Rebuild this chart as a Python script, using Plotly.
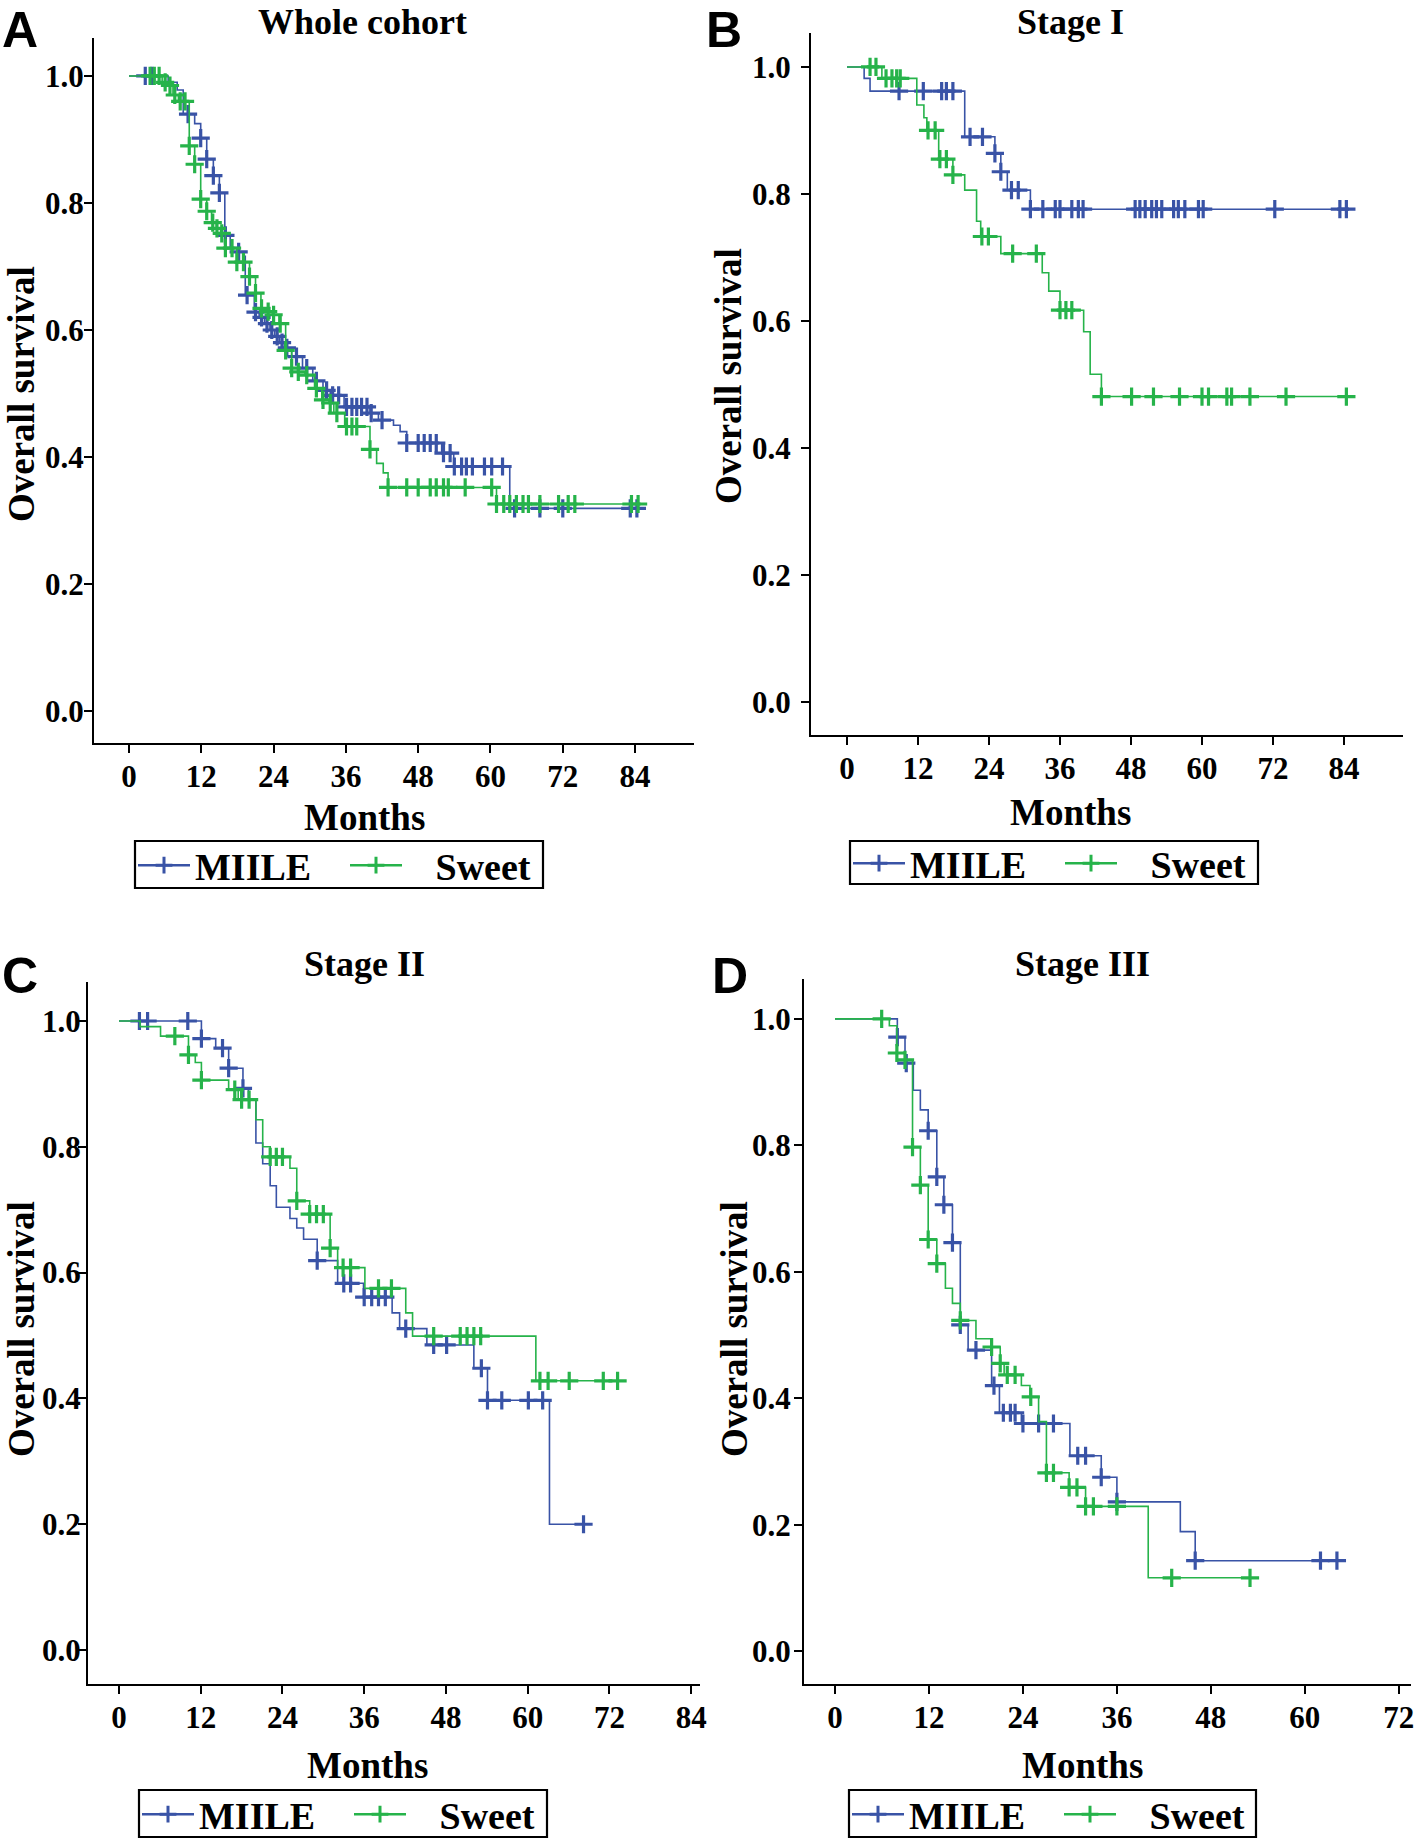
import numpy as np
import plotly.graph_objects as go

# ---------------- DATA (months, survival) ----------------
# Panel A: Whole cohort
A_miile_t = [6.5, 8.0, 9.0, 10.9, 11.9, 12.9, 14.0, 15.0, 15.9, 16.8, 17.9, 19.0, 19.3, 20.8, 21.6, 22.5,
             23.4, 24.2, 25.0, 25.8, 27.0, 28.8, 30.5, 32.2, 33.4, 35.7, 40.0, 41.4, 43.9, 45.0, 46.1, 51.9,
             53.9, 63.2]
A_miile_s = [0.99, 0.978, 0.94, 0.925, 0.902, 0.869, 0.843, 0.816, 0.749, 0.73, 0.723, 0.716, 0.655, 0.628,
             0.62, 0.61, 0.60, 0.59, 0.58, 0.572, 0.558, 0.54, 0.52, 0.505, 0.497, 0.479, 0.469, 0.458, 0.45,
             0.44, 0.422, 0.406, 0.385, 0.319]
A_miile_c = [2.7, 3.8, 9.8, 11.9, 12.9, 14.0, 15.0, 16.0, 18.2, 19.6, 21.0, 22.0, 22.9, 23.7, 24.6, 25.4,
             26.2, 27.8, 29.5, 31.1, 32.8, 33.8, 34.8, 36.1, 37.0, 37.8, 38.6, 39.5, 40.2, 42.0, 46.1, 48.0,
             49.0, 50.0, 51.0, 52.2, 53.3, 54.0, 55.2, 56.0, 57.0, 59.0, 60.2, 62.0, 64.0, 68.2, 72.0, 83.2, 84.3]
A_sweet_t = [5.5, 6.5, 7.3, 8.2, 10.0, 10.9, 11.9, 12.9, 13.7, 14.5, 15.2, 16.0, 17.9, 20.0, 21.0, 21.9,
             22.9, 23.8, 24.9, 26.0, 27.0, 28.0, 29.2, 30.8, 32.0, 33.2, 34.0, 35.8, 40.0, 41.1, 42.2, 43.0, 61.0]
A_sweet_s = [0.99, 0.985, 0.97, 0.96, 0.89, 0.861, 0.806, 0.787, 0.769, 0.76, 0.752, 0.729, 0.707, 0.684,
             0.658, 0.634, 0.629, 0.624, 0.61, 0.568, 0.54, 0.534, 0.529, 0.508, 0.49, 0.485, 0.469, 0.448,
             0.412, 0.39, 0.375, 0.352, 0.326]
A_sweet_c = [3.5, 4.2, 5.0, 6.0, 6.8, 7.6, 8.5, 9.3, 10.0, 10.9, 11.9, 12.9, 13.9, 14.6, 15.4, 16.0, 17.1,
             17.9, 19.0, 20.0, 21.0, 22.0, 23.1, 24.0, 25.1, 26.0, 27.0, 28.1, 29.5, 31.1, 32.2, 33.4, 34.5,
             36.1, 37.0, 37.8, 40.0, 43.0, 46.1, 48.0, 50.0, 51.0, 52.2, 53.0, 55.8, 60.2, 61.0, 62.2, 63.2,
             64.3, 65.4, 66.3, 68.2, 71.3, 72.9, 74.0, 83.4, 84.5]

# Panel B: Stage I
B_miile_t = [2.9, 3.9, 19.9, 25.0, 26.0, 27.1, 31.0]
B_miile_s = [0.982, 0.962, 0.89, 0.864, 0.835, 0.806, 0.776]
B_miile_c = [8.8, 12.9, 16.0, 16.8, 17.9, 20.8, 22.9, 25.0, 26.0, 27.8, 28.95, 31.0, 33.1, 35.2, 36.0, 38.0,
             39.1, 39.9, 48.7, 49.5, 50.4, 51.5, 52.3, 53.2, 55.2, 56.0, 57.1, 59.4, 60.2, 72.3, 83.3, 84.4]
B_sweet_t = [5.9, 11.8, 13.0, 13.5, 15.5, 17.9, 19.9, 21.9, 22.6, 26.0, 33.0, 34.1, 36.0, 40.0, 41.1, 43.0]
B_sweet_s = [0.982, 0.94, 0.92, 0.9, 0.855, 0.83, 0.806, 0.757, 0.733, 0.706, 0.676, 0.647, 0.617, 0.583,
             0.516, 0.481]
B_sweet_c = [3.9, 4.9, 6.6, 7.6, 8.4, 9.0, 13.7, 14.9, 15.7, 16.8, 17.9, 22.8, 23.9, 28.0, 32.0, 36.0, 37.0,
             38.0, 43.0, 48.1, 51.8, 56.2, 60.0, 61.1, 64.2, 65.0, 68.1, 74.2, 84.4]

# Panel C: Stage II
C_miile_t = [12.1, 14.2, 16.1, 18.2, 19.0, 20.1, 21.1, 22.2, 23.1, 25.1, 26.1, 27.1, 29.1, 32.1, 35.9, 40.1,
             41.2, 45.2, 52.1, 54.1, 63.2]
C_miile_s = [0.972, 0.957, 0.925, 0.893, 0.875, 0.806, 0.773, 0.738, 0.704, 0.686, 0.671, 0.653, 0.619,
             0.583, 0.561, 0.536, 0.511, 0.485, 0.448, 0.397, 0.2]
C_miile_c = [3.0, 4.2, 10.1, 12.1, 15.2, 16.1, 18.2, 29.1, 33.0, 34.0, 36.0, 37.1, 38.1, 39.1, 42.1, 46.2,
             48.1, 53.2, 54.1, 56.2, 60.1, 62.2, 68.2]
C_sweet_t = [3.1, 6.1, 10.2, 11.2, 12.1, 16.1, 17.5, 20.1, 21.1, 22.2, 25.1, 26.1, 28.0, 31.0, 32.1, 36.1,
             42.1, 43.1, 61.2]
C_sweet_s = [0.991, 0.976, 0.946, 0.934, 0.906, 0.891, 0.875, 0.843, 0.8, 0.784, 0.766, 0.714, 0.693, 0.639,
             0.608, 0.575, 0.536, 0.499, 0.428]
C_sweet_c = [8.2, 10.2, 12.1, 17.0, 18.0, 19.1, 22.2, 23.1, 24.0, 26.1, 28.0, 29.0, 30.0, 31.0, 32.9, 34.0,
             38.1, 40.0, 46.2, 50.1, 51.1, 52.1, 53.1, 61.8, 63.0, 66.1, 71.1, 73.2]

# Panel D: Stage III
D_miile_t = [7.96, 8.94, 10.0, 10.9, 11.9, 13.0, 13.9, 15.0, 16.0, 17.0, 20.0, 21.0, 23.8, 30.0, 34.0, 36.0,
             44.1, 46.0]
D_miile_s = [0.971, 0.93, 0.887, 0.856, 0.823, 0.75, 0.706, 0.646, 0.516, 0.476, 0.42, 0.377, 0.36, 0.309,
             0.275, 0.236, 0.189, 0.143]
D_miile_c = [7.96, 9.1, 11.9, 13.0, 13.9, 15.0, 16.0, 18.0, 20.3, 21.5, 22.4, 23.0, 24.0, 26.0, 27.9, 31.0,
             32.0, 34.0, 36.0, 46.0, 62.0, 64.1]
D_sweet_t = [6.94, 7.9, 8.94, 9.9, 10.9, 11.9, 13.0, 14.1, 15.0, 16.0, 18.0, 20.0, 21.1, 21.6, 23.8, 24.9,
             26.0, 27.0, 29.9, 32.0, 40.0]
D_sweet_s = [0.989, 0.946, 0.935, 0.797, 0.737, 0.651, 0.613, 0.574, 0.55, 0.523, 0.494, 0.481, 0.455,
             0.437, 0.42, 0.402, 0.363, 0.282, 0.259, 0.229, 0.116]
D_sweet_c = [5.96, 7.9, 8.94, 9.9, 10.9, 11.9, 13.0, 16.0, 20.0, 21.1, 22.0, 23.0, 25.0, 27.0, 27.9, 29.9,
             30.9, 32.0, 33.0, 36.0, 43.0, 53.0]

groups = ["MIILE", "\u00a0\u00a0\u00a0Sweet"]
titles = ["Whole cohort", "Stage I", "Stage II", "Stage III"]
letters = ["A", "B", "C", "D"]
x_ticks_84 = [0, 12, 24, 36, 48, 60, 72, 84]
x_ticks_72 = [0, 12, 24, 36, 48, 60, 72]
y_ticks = [0.0, 0.2, 0.4, 0.6, 0.8, 1.0]

# ---------------- STYLE / LAYOUT ----------------
W, H = 1418, 1843
BLUE = "#3953a6"
GREEN = "#26b34a"
SERIF = "Liberation Serif"
SANS = "Liberation Sans"

panels = [
    dict(data=[(A_miile_t, A_miile_s, A_miile_c), (A_sweet_t, A_sweet_s, A_sweet_c)],
         xpx=(94, 694), ypx=(38, 743), xr=(-5.81, 93.78), yr=(-0.0504, 1.0598), xt=x_ticks_84, ystand=-6,
         title_xy=(362, 0), title_anchor="top", letter_xy=(0, 0), letter_anchor="top",
         months_xy=(364, 818), os_xy=(21, 394), box=(135, 841, 543, 888)),
    dict(data=[(B_miile_t, B_miile_s, B_miile_c), (B_sweet_t, B_sweet_s, B_sweet_c)],
         xpx=(811, 1403), ypx=(33, 735), xr=(-6.08, 93.97), yr=(-0.052, 1.0535), xt=x_ticks_84, ystand=4,
         title_xy=(1070, 0), title_anchor="top", letter_xy=(704, 0), letter_anchor="top",
         months_xy=(1070, 813), os_xy=(728, 376), box=(850, 841, 1258, 884)),
    dict(data=[(C_miile_t, C_miile_s, C_miile_c), (C_sweet_t, C_sweet_s, C_sweet_c)],
         xpx=(88, 700), ypx=(982, 1684), xr=(-4.55, 85.3), yr=(-0.054, 1.062), xt=x_ticks_84, ystand=-9,
         title_xy=(364, 964), title_anchor="middle", letter_xy=(0, 976), letter_anchor="middle",
         months_xy=(367, 1765), os_xy=(21, 1329), box=(139, 1790, 547, 1837)),
    dict(data=[(D_miile_t, D_miile_s, D_miile_c), (D_sweet_t, D_sweet_s, D_sweet_c)],
         xpx=(804, 1411), ypx=(979, 1684), xr=(-3.96, 73.56), yr=(-0.052, 1.063), xt=x_ticks_72, ystand=-3,
         title_xy=(1082, 964), title_anchor="middle", letter_xy=(710, 976), letter_anchor="middle",
         months_xy=(1082, 1765), os_xy=(734, 1329), box=(849, 1790, 1256, 1837)),
]
colors = [BLUE, GREEN]


def surv_at(times, surv, t):
    idx = np.searchsorted(np.asarray(times), t, side="right")
    return 1.0 if idx == 0 else surv[idx - 1]


fig = go.Figure()
annotations = []
shapes = []
layout_axes = {}

for i, p in enumerate(panels):
    n = i + 1
    xa = "x" if n == 1 else f"x{n}"
    ya = "y" if n == 1 else f"y{n}"
    leg = "legend" if n == 1 else f"legend{n}"
    for g, (times, surv, cens) in enumerate(p["data"]):
        col = colors[g]
        t_end = max(max(cens), max(times))
        xs = [0.0] + list(times) + [t_end]
        ys = [1.0] + list(surv) + [surv[-1]]
        fig.add_trace(go.Scatter(x=xs, y=ys, mode="lines", line=dict(color=col, width=1.6, shape="hv"),
                                 xaxis=xa, yaxis=ya, showlegend=False, hoverinfo="skip"))
        cy = [surv_at(times, surv, c) for c in cens]
        fig.add_trace(go.Scatter(x=cens, y=cy, mode="markers",
                                 marker=dict(symbol="cross-thin", size=13, color=col,
                                             line=dict(color=col, width=3.2)),
                                 xaxis=xa, yaxis=ya, showlegend=False))
        fig.add_trace(go.Scatter(x=[None], y=[None], mode="lines+markers", name=groups[g],
                                 line=dict(color=col, width=2.5),
                                 marker=dict(symbol="cross-thin", size=12, color=col,
                                             line=dict(color=col, width=3)),
                                 xaxis=xa, yaxis=ya, legend=leg, showlegend=True))

    x0, x1 = p["xpx"]
    y0, y1 = p["ypx"]
    axis_common = dict(showline=True, linecolor="black", linewidth=2, ticks="outside", ticklen=8,
                       tickwidth=2, tickcolor="black", showgrid=False, zeroline=False, automargin=False,
                       tickfont=dict(family=SERIF, size=31, color="black", weight="bold"))
    layout_axes["xaxis" if n == 1 else f"xaxis{n}"] = dict(
        domain=[x0 / W, x1 / W], range=list(p["xr"]), tickvals=p["xt"], anchor=ya,
        ticklabelstandoff=-3, **axis_common)
    layout_axes["yaxis" if n == 1 else f"yaxis{n}"] = dict(
        domain=[1 - y1 / H, 1 - y0 / H], range=list(p["yr"]), tickvals=y_ticks, tickformat=".1f",
        anchor=xa, ticklabelstandoff=p["ystand"], **axis_common)

    bx0, by0, bx1, by1 = p["box"]
    shapes.append(dict(type="rect", xref="paper", yref="paper", x0=bx0 / W, x1=bx1 / W,
                       y0=1 - by1 / H, y1=1 - by0 / H, line=dict(color="black", width=2.2),
                       fillcolor="rgba(0,0,0,0)", layer="above"))
    layout_axes[leg] = dict(x=(bx0 - 2) / W, y=1 - ((by0 + by1) / 2 + 1) / H, xanchor="left",
                            yanchor="middle", orientation="h",
                            borderwidth=0, bgcolor="rgba(0,0,0,0)",
                            font=dict(family=SERIF, size=38, color="black", weight="bold"),
                            itemwidth=52, entrywidth=145, tracegroupgap=0)

    tx, ty = p["title_xy"]
    annotations.append(dict(text=titles[i], x=tx / W, y=1 - ty / H, xref="paper", yref="paper",
                            showarrow=False, xanchor="center", yanchor=p["title_anchor"],
                            font=dict(family=SERIF, size=36, color="black", weight="bold")))
    lx2, ly2 = p["letter_xy"]
    annotations.append(dict(text=letters[i], x=lx2 / W, y=1 - ly2 / H, xref="paper", yref="paper",
                            showarrow=False, xanchor="left", yanchor=p["letter_anchor"],
                            font=dict(family=SANS, size=50, color="black", weight="bold")))
    mx, my = p["months_xy"]
    annotations.append(dict(text="Months", x=mx / W, y=1 - my / H, xref="paper", yref="paper",
                            showarrow=False, xanchor="center", yanchor="middle",
                            font=dict(family=SERIF, size=37, color="black", weight="bold")))
    ox, oy = p["os_xy"]
    annotations.append(dict(text="Overall survival", x=ox / W, y=1 - oy / H, xref="paper", yref="paper",
                            showarrow=False, xanchor="center", yanchor="middle", textangle=-90,
                            font=dict(family=SERIF, size=37, color="black", weight="bold")))

fig.update_layout(width=W, height=H, margin=dict(l=0, r=0, t=0, b=0, autoexpand=False),
                  paper_bgcolor="white", plot_bgcolor="white", annotations=annotations,
                  shapes=shapes, **layout_axes)

fig.write_html("out.html", config={"displayModeBar": False},
               post_script="document.body.style.margin='0';document.body.style.padding='0';")
